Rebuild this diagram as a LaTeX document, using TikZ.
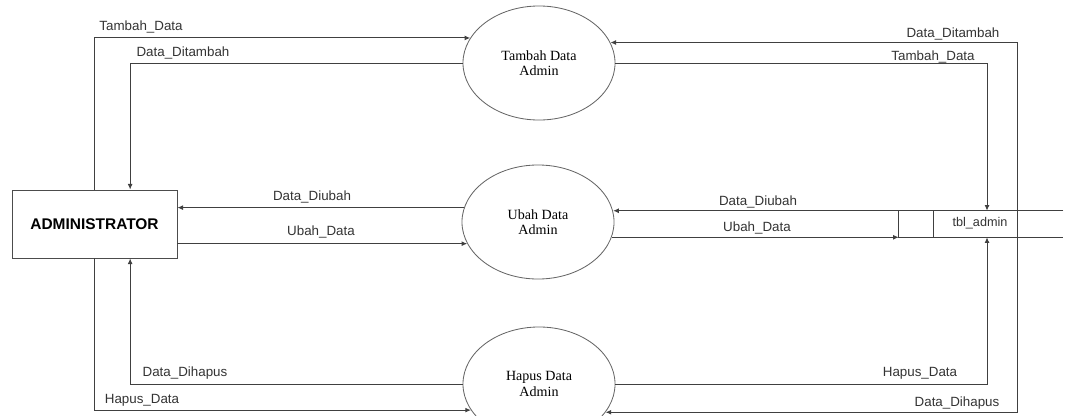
\documentclass[tikz,border=0pt]{standalone}
\usepackage{fontspec}
\setmainfont{Liberation Serif}
\setsansfont{Liberation Sans}
\usepackage{tikz}
\usetikzlibrary{arrows.meta, shapes.geometric, positioning}

\tikzset{flowarrow/.style={-{Latex[length=4pt,width=3.5pt]}, line width=0.7pt, black!75},
	proses/.style={ellipse, draw=black!60, line width=0.6pt, minimum width=3.8cm, minimum height=2.85cm,
		inner sep=0pt, align=center, font=\fontsize{10}{11}\selectfont},
	flowlabel/.style={font=\sffamily\fontsize{9.5}{10}\selectfont, text=black!80, inner sep=0pt}
}

\begin{document}
\begin{tikzpicture}[x=0.025cm, y=-0.025cm]
\useasboundingbox (0,0) rectangle (1070,415);
\clip (0,0) rectangle (1070,415);

% entitas dan proses
\node[draw=black!70, line width=0.6pt, minimum width=4.125cm, minimum height=1.7cm,
	font=\sffamily\bfseries\fontsize{11}{12}\selectfont] (admin) at (94.5,224) {ADMINISTRATOR};
\node[proses] (tambah) at (539,63) {Tambah Data\\Admin};
\node[proses] (ubah) at (538,222) {Ubah Data\\Admin};
\node[proses] (hapus) at (539,384) {Hapus Data\\Admin};

% data store
\node[minimum width=4.1cm, minimum height=0.65cm, inner sep=0pt] (tbl) at (981,224) {};
\node[flowlabel, font=\sffamily\fontsize{9}{10}\selectfont] (tbllabel) at (980,223) {tbl\_admin};
\coordinate (sekat) at (933,211);
\draw[black!75, line width=0.7pt] (tbl.north east) -- (tbl.north west) -- (tbl.south west) -- (tbl.south east);
\draw[black!75, line width=0.7pt] (sekat) -- (sekat |- tbl.south);

\coordinate (kanan1) at (987,0);
\coordinate (kanan2) at (1017,0);
\draw[black!75, line width=0.7pt] (tbl.north -| kanan2) -- (tbl.south -| kanan2);

% tambah
\draw[flowarrow] (admin.north) |- (tambah.160);
\draw[flowarrow] (tambah.west) -| (admin.44);
\draw[flowarrow] (tbl.north -| kanan2) |- (tambah.16);
\draw[flowarrow] (tambah.east) -| (tbl.north -| kanan1);
\node[flowlabel] (lt1) at (141,27) {Tambah\_Data};
\node[flowlabel] (lt2) at (183,53) {Data\_Ditambah};
\node[flowlabel] (lt3) at (953,34) {Data\_Ditambah};
\node[flowlabel] (lt4) at (933,57) {Tambah\_Data};

% ubah
\draw[flowarrow] (ubah.169) -- (ubah.169 -| admin.east);
\draw[flowarrow] (ubah.197 -| admin.east) -- (ubah.197);
\draw[flowarrow] (tbl.north west) -- (tbl.north west -| ubah.8);
\draw[flowarrow] (tbl.south west -| ubah.-12) -- (tbl.south west);
\node[flowlabel] (lu1) at (312,197) {Data\_Diubah};
\node[flowlabel] (lu2) at (321,232) {Ubah\_Data};
\node[flowlabel] (lu3) at (758,202) {Data\_Diubah};
\node[flowlabel] (lu4) at (757,228) {Ubah\_Data};

% hapus
\draw[flowarrow] (hapus.west) -| (admin.-44);
\draw[flowarrow] (admin.south) |- (hapus.201);
\draw[flowarrow] (hapus.east) -| (tbl.south -| kanan1);
\draw[flowarrow] (tbl.south -| kanan2) |- (hapus.-23);
\node[flowlabel] (lh1) at (185,373) {Data\_Dihapus};
\node[flowlabel] (lh2) at (142,400) {Hapus\_Data};
\node[flowlabel] (lh3) at (920,373) {Hapus\_Data};
\node[flowlabel] (lh4) at (957,403) {Data\_Dihapus};
\end{tikzpicture}
\end{document}
